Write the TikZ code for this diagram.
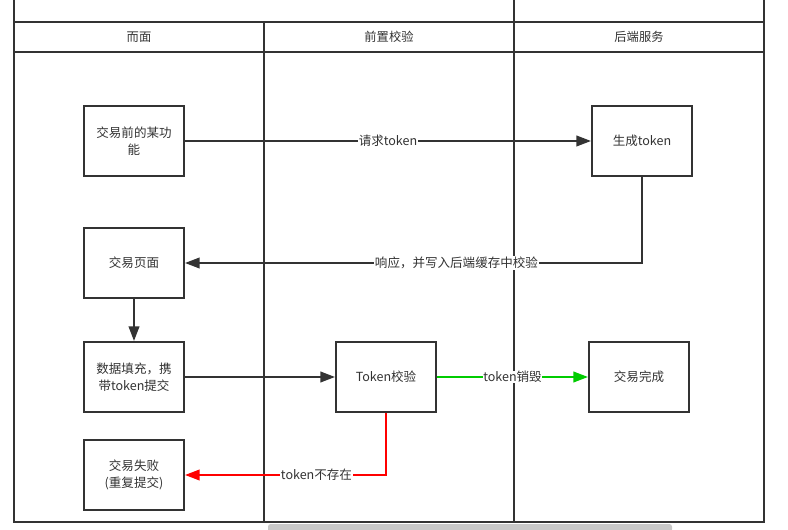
\documentclass[tikz,border=0pt]{standalone}
\usepackage{fontspec}
\setmainfont{Noto Sans CJK SC}
\usetikzlibrary{arrows.meta}
\definecolor{ink}{HTML}{333333}
\definecolor{okgreen}{HTML}{00CC00}
\definecolor{errred}{HTML}{FF0000}
\definecolor{scroll}{HTML}{C8C8C8}
\begin{document}
\begin{tikzpicture}[x=0.75pt,y=-0.75pt,
  pool/.style={draw=ink,line width=1.5pt},
  box/.style={draw=ink,line width=1.5pt,minimum width=75pt,minimum height=52.5pt,align=center,text=ink,font=\fontsize{9.4}{13}\selectfont,inner sep=0pt},
  head/.style={text=ink,font=\fontsize{9.2}{11}\selectfont},
  flow/.style={draw=ink,line width=1.4pt,-{Triangle[length=11pt,width=8pt]}},
  lbl/.style={fill=white,text=ink,font=\fontsize{9.4}{11}\selectfont,inner sep=0.5pt}]
\useasboundingbox (0,0) rectangle (788,530);
\fill[white] (0,0) rectangle (788,530);
% pool
\draw[pool] (14,0) -- (14,522) -- (764,522) -- (764,0);
\draw[pool] (14,22) -- (764,22);
\draw[pool] (14,52) -- (764,52);
\draw[pool] (264,22) -- (264,522);
\draw[pool] (514,0) -- (514,522);
\node[head] (h1) at (139,37) {而面};
\node[head] (h2) at (389,37) {前置校验};
\node[head] (h3) at (639,37) {后端服务};
% scrollbar
\fill[scroll,rounded corners=2pt] (268,524) rectangle (672,532);
% nodes
\node[box] (pre) at (134,141) {交易前的某功\\能};
\node[box] (gen) at (642,141) {生成token};
\node[box] (page) at (134,263) {交易页面};
\node[box] (fill) at (134,377) {数据填充，携\\带token提交};
\node[box] (chk) at (386,377) {Token校验};
\node[box] (done) at (639,377) {交易完成};
\node[box] (fail) at (134,475) {交易失败\\(重复提交)};
% edges
\draw[flow] (pre) -- node[lbl,pos=0.5] {请求token} (gen);
\draw[flow] (gen.south) |- node[lbl,pos=0.703] {响应，并写入后端缓存中校验} (page.east);
\draw[flow] (page) -- (fill);
\draw[flow] (fill) -- (chk);
\draw[flow,draw=okgreen] (chk) -- node[lbl,pos=0.5] {token销毁} (done);
\draw[flow,draw=errred] (chk.south) |- node[lbl,pos=0.673] {token不存在} (fail.east);
\end{tikzpicture}
\end{document}
